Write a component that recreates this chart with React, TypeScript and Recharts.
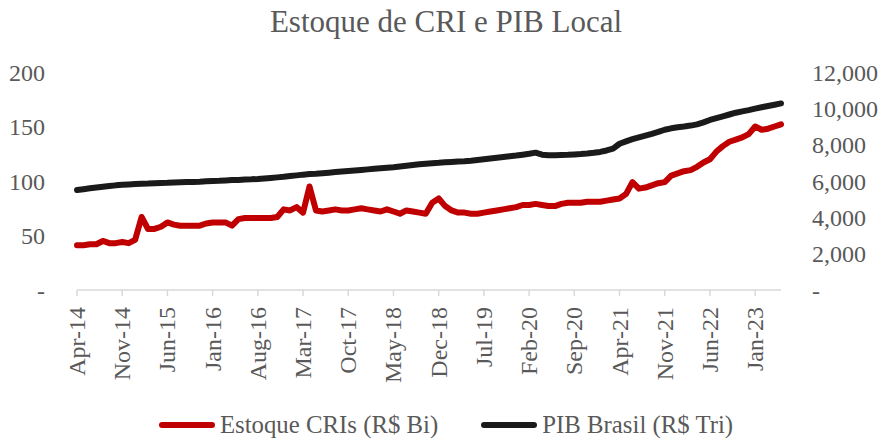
import React from 'react'
import { LineChart, Line, XAxis, YAxis, Legend } from 'recharts'

// monthly, Apr-14 .. May-23
const MONTHS = ['Jan', 'Feb', 'Mar', 'Apr', 'May', 'Jun', 'Jul', 'Aug', 'Sep', 'Oct', 'Nov', 'Dec']

const estoqueCRI = [
  41, 41, 42, 42, 45, 43, 43, 44, 43, 46,
  67, 56, 56, 58, 62, 60, 59, 59, 59, 59,
  61, 62, 62, 62, 59, 65, 66, 66, 66, 66,
  66, 67, 74, 73, 76, 71, 95, 73, 72, 73,
  74, 73, 73, 74, 75, 74, 73, 72, 74, 72,
  70, 73, 72, 71, 70, 80, 84, 77, 73, 71,
  71, 70, 70, 71, 72, 73, 74, 75, 76, 78,
  78, 79, 78, 77, 77, 79, 80, 80, 80, 81,
  81, 81, 82, 83, 84, 88, 99, 93, 94, 96,
  98, 99, 105, 107, 109, 110, 113, 117, 120, 127,
  132, 136, 138, 140, 143, 150, 147, 148, 150, 152,
]

const pibBrasil = [
  5500, 5550, 5600, 5640, 5680, 5720, 5760, 5790, 5810, 5830,
  5850, 5860, 5880, 5890, 5900, 5920, 5930, 5940, 5950, 5960,
  5980, 6000, 6010, 6030, 6050, 6060, 6080, 6090, 6110, 6140,
  6170, 6200, 6230, 6270, 6310, 6350, 6380, 6400, 6430, 6460,
  6490, 6520, 6550, 6580, 6610, 6640, 6670, 6700, 6730, 6760,
  6800, 6840, 6880, 6920, 6950, 6980, 7000, 7030, 7050, 7070,
  7090, 7120, 7160, 7200, 7240, 7280, 7320, 7360, 7400, 7450,
  7500, 7560, 7450, 7420, 7420, 7430, 7440, 7460, 7480, 7510,
  7550, 7600, 7680, 7780, 8050, 8180, 8300, 8400, 8500, 8600,
  8700, 8820, 8900, 8960, 9000, 9050, 9120, 9230, 9360, 9460,
  9560, 9660, 9760, 9830, 9900, 9980, 10060, 10130, 10200, 10270,
]

const leftTicks = [0, 50, 100, 150, 200]
const rightTicks = [0, 2000, 4000, 6000, 8000, 10000, 12000]

const FONT = '"Liberation Serif", "Times New Roman", serif'
const GRAY = '#595959'

const data = estoqueCRI.map((v, i) => {
  const m = (3 + i) % 12
  const y = 14 + Math.floor((3 + i) / 12)
  return { label: `${MONTHS[m]}-${y}`, cri: v, pib: pibBrasil[i] }
})

function XTick({ x, y, payload }: any) {
  return (
    <text
      x={x}
      y={y + 9}
      transform={`rotate(-90, ${x}, ${y + 9})`}
      textAnchor="end"
      dominantBaseline="central"
      fill={GRAY}
      fontSize={24}
      fontFamily={FONT}
    >
      {payload.value}
    </text>
  )
}

function LegendContent() {
  const item = (color: string, text: string) => (
    <div style={{ display: 'flex', alignItems: 'center', marginRight: 43 }}>
      <div style={{ width: 56, height: 6, background: color, borderRadius: 3, marginRight: 5 }} />
      <span style={{ color: GRAY, fontSize: 24.8, fontFamily: FONT }}>{text}</span>
    </div>
  )
  return (
    <div style={{ display: 'flex', justifyContent: 'center', height: 30, alignItems: 'center', paddingLeft: 43 }}>
      {item('#c00000', 'Estoque CRIs (R$ Bi)')}
      {item('#1a1a1a', 'PIB Brasil (R$ Tri)')}
    </div>
  )
}

export default function App() {
  return (
    <div style={{ position: 'absolute', left: 0, top: 0, width: 892, height: 446, background: '#fff' }}>
      <div
        style={{
          position: 'absolute', top: 4, left: 0, width: 892, textAlign: 'center',
          fontFamily: FONT, fontSize: 31, color: GRAY, lineHeight: '36px',
        }}
      >
        Estoque de CRI e PIB Local
      </div>
      <LineChart width={892} height={446} data={data} margin={{ top: 72, right: 0, bottom: 0, left: 0 }}>
        <XAxis
          dataKey="label"
          interval={6}
          stroke="#d9d9d9"
          strokeWidth={1.5}
          tickSize={6}
          height={126}
          tick={<XTick />}
        />
        <YAxis
          yAxisId="left"
          width={77}
          domain={[0, 200]}
          ticks={leftTicks}
          axisLine={false}
          tickLine={false}
          tickMargin={26}
          tick={{ fill: GRAY, fontSize: 24, fontFamily: FONT }}
          tickFormatter={(v: number) => (v === 0 ? '-' : String(v))}
        />
        <YAxis
          yAxisId="right"
          orientation="right"
          width={111}
          domain={[0, 12000]}
          ticks={rightTicks}
          axisLine={false}
          tickLine={false}
          tickMargin={25}
          tick={{ fill: GRAY, fontSize: 24, fontFamily: FONT, textAnchor: 'start' }}
          tickFormatter={(v: number) => (v === 0 ? '-' : v.toLocaleString('en-US'))}
        />
        <Legend
          verticalAlign="bottom"
          content={<LegendContent />}
          wrapperStyle={{ top: 410, left: 0, width: 892, height: 30 }}
        />
        <Line
          yAxisId="left"
          type="linear"
          dataKey="cri"
          name="Estoque CRIs (R$ Bi)"
          stroke="#c00000"
          strokeWidth={6}
          strokeLinecap="round"
          strokeLinejoin="round"
          dot={false}
          isAnimationActive={false}
        />
        <Line
          yAxisId="right"
          type="linear"
          dataKey="pib"
          name="PIB Brasil (R$ Tri)"
          stroke="#1a1a1a"
          strokeWidth={6}
          strokeLinecap="round"
          strokeLinejoin="round"
          dot={false}
          isAnimationActive={false}
        />
      </LineChart>
    </div>
  )
}
